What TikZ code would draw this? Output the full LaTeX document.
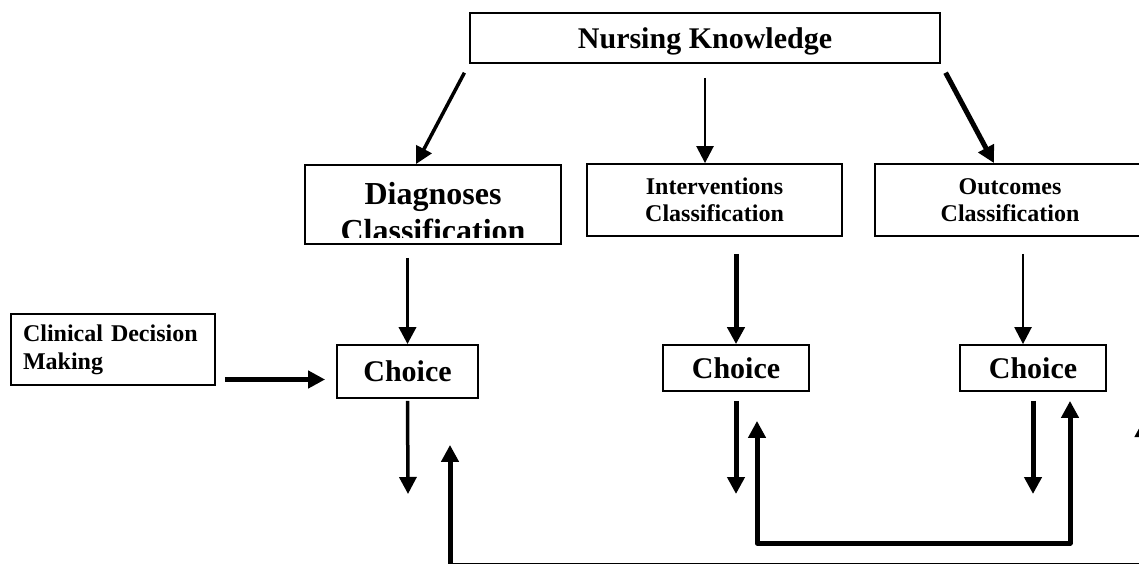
\documentclass[tikz,border=0pt]{standalone}
\usepackage{fontspec}
\setmainfont{Liberation Serif}
\usetikzlibrary{arrows.meta,positioning,calc}

\begin{document}
\begin{tikzpicture}[x=1pt, y=-1pt, every node/.style={font=\bfseries},
  box/.style={draw, line width=1.8pt, inner sep=0pt, align=center},
  lightarrow/.style={line width=2.5pt, -{Triangle[length=17pt,width=17pt]}},
  midarrow/.style={line width=3.5pt, -{Triangle[length=17pt,width=17pt]}},
  heavyarrow/.style={line width=5pt, -{Triangle[length=17pt,width=17pt]}},
  heavyloop/.style={line width=5pt, line join=round,
    {Triangle[length=17pt,width=17pt]}-{Triangle[length=17pt,width=17pt]}}]
  \useasboundingbox (0,0) rectangle (1139,564);
  \clip (0,0) rectangle (1139,564);

  \node[box, minimum width=470pt, minimum height=50pt, text depth=0pt,
    font=\bfseries\fontsize{30}{36}\selectfont] (nk) at (705,38) {Nursing Knowledge};

  % classification row
  \node[box, minimum width=256pt, minimum height=79pt] (diag) at (433,204.5) {};
  \begin{scope}
    \clip (diag.north west) rectangle ([yshift=7pt]diag.south east);
    \node[align=center, inner sep=0pt, font=\bfseries\fontsize{32}{37}\selectfont]
      (diaglabel) at (433,212) {Diagnoses\\Classification};
  \end{scope}
  \node[box, minimum width=255pt, minimum height=72pt,
    font=\bfseries\fontsize{24}{27}\selectfont] (interv) at (714.5,200) {Interventions\\Classification};
  \node[box, minimum width=270pt, minimum height=72pt,
    font=\bfseries\fontsize{24}{27}\selectfont] (outc) at (1010,200) {Outcomes\\Classification};

  % choice row
  \node[box, minimum width=204pt, minimum height=71pt, text width=180pt, align=left,
    font=\bfseries\fontsize{24}{28}\selectfont] (clin) at (113,349.5) {Clinical Decision\\Making};
  \node[box, minimum width=141pt, minimum height=53pt,
    font=\bfseries\fontsize{30}{36}\selectfont] (choiceL) at (407.5,371.5) {Choice};
  \node[box, minimum width=146pt, minimum height=46pt,
    font=\bfseries\fontsize{30}{36}\selectfont] (choiceM) at (736,368) {Choice};
  \node[box, minimum width=146pt, minimum height=46pt,
    font=\bfseries\fontsize{30}{36}\selectfont] (choiceR) at (1033,368) {Choice};

  \coordinate (outL) at (408,494);
  \coordinate (outM) at (736,494);
  \coordinate (outR) at (1033,494);
  \coordinate (loopM) at (757,543);
  \coordinate (loopR) at (1070,543);
  \coordinate (backL) at (450,565.5);
  \coordinate (backR) at (1143.5,565.5);
  \coordinate (edgeR) at (1143.5,420);

  \draw[midarrow, shorten <=10pt] (nk.south west) -- ([xshift=-17pt]diag.north);
  \draw[lightarrow, shorten <=14pt] (nk.south) -- (nk.south |- interv.north);
  \draw[heavyarrow, shorten <=10pt] (nk.south east) -- ([xshift=-16pt]outc.north);

  \draw[midarrow, shorten <=13pt] (choiceL.north |- diag.south) -- (choiceL.north);
  \draw[heavyarrow, shorten <=17pt] (choiceM.north |- interv.south) -- (choiceM.north);
  \draw[lightarrow, shorten <=17pt] ([xshift=-10pt]choiceR.north |- outc.south) -- ([xshift=-10pt]choiceR.north);
  \draw[heavyarrow, shorten <=9pt, shorten >=11pt] ([yshift=-8pt]choiceL.west -| clin.east) -- ([yshift=-8pt]choiceL.west);

  \draw[midarrow, shorten <=2pt] (choiceL.south) -- (outL);
  \draw[heavyarrow, shorten <=9pt] (choiceM.south) -- (outM);
  \draw[heavyarrow, shorten <=9pt] (choiceR.south) -- (outR);

  % feedback loops
  \draw[heavyloop, shorten <=29pt, shorten >=9pt] ([xshift=21pt]choiceM.south) -- (loopM) -- (loopR) -- ([xshift=37pt]choiceR.south);
  \draw[heavyloop] ([xshift=42.5pt,yshift=-46pt]choiceL.south) -- (backL) -- (backR) -- (edgeR);
\end{tikzpicture}
\end{document}
